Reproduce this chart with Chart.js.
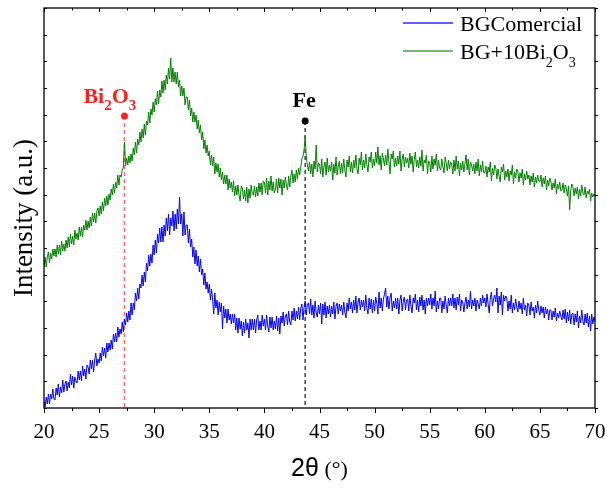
<!DOCTYPE html>
<html>
<head>
<meta charset="utf-8">
<script src="https://cdn.jsdelivr.net/npm/chart.js@4.4.0/dist/chart.umd.min.js"></script>
<style>
  html, body { margin: 0; padding: 0; background: #fff; }
  #wrap { width: 607px; height: 491px; }
</style>
</head>
<body>
<div id="wrap"><canvas id="xrdChart"></canvas></div>
<script>
// 2theta sampling: 20.0 .. 70.0, one reading every 0.1 deg
const angleStart = 20
const angleStep = 0.1
const xTicks = [20, 25, 30, 35, 40, 45, 50, 55, 60, 65, 70]

// intensities (arbitrary units, 0 = bottom axis, 400 = top)
const bgComercial = [
  7, 1, 11, 4, 14, 4, 14, 9, 19, 9,                 // 20
  8, 20, 13, 24, 11, 21, 15, 28, 16, 24,            // 21
  27, 17, 26, 20, 34, 23, 32, 20, 31, 27,           // 22
  25, 37, 28, 37, 27, 42, 32, 39, 29, 43,           // 23
  41, 34, 48, 39, 48, 36, 48, 55, 42, 49,           // 24
  45, 55, 47, 61, 52, 60, 50, 65, 56, 65,           // 25
  58, 68, 59, 74, 66, 75, 66, 81, 71, 79,           // 26
  74, 86, 76, 89, 83, 95, 86, 97, 88, 105,          // 27
  93, 105, 98, 115, 107, 120, 109, 124, 120, 133,   // 28
  122, 136, 126, 145, 137, 153, 142, 154, 145, 163, // 29
  153, 168, 155, 174, 165, 180, 166, 181, 166, 183, // 30
  172, 190, 177, 194, 173, 190, 182, 197, 177, 194, // 31
  179, 199, 184, 211, 184, 194, 172, 196, 173, 183, // 32
  183, 165, 179, 161, 169, 151, 161, 144, 158, 142, // 33
  152, 136, 149, 133, 139, 123, 135, 119, 126, 115, // 34
  124, 108, 119, 109, 94, 115, 100, 108, 93, 106,   // 35
  96, 105, 79, 102, 90, 99, 85, 99, 88, 94,         // 36
  84, 94, 85, 94, 78, 90, 75, 90, 79, 87,           // 37
  72, 86, 75, 89, 78, 85, 70, 89, 78, 89,           // 38
  78, 89, 75, 88, 93, 78, 87, 78, 93, 82,           // 39
  89, 78, 93, 82, 76, 91, 80, 91, 78, 87,           // 40
  79, 92, 77, 90, 74, 92, 85, 96, 82, 92,           // 41
  94, 83, 97, 86, 83, 97, 88, 100, 87, 97,          // 42
  89, 101, 88, 100, 104, 88, 101, 107, 93, 104,     // 43
  105, 94, 109, 93, 103, 90, 107, 95, 91, 103,      // 44
  94, 105, 84, 104, 93, 106, 90, 102, 94, 103,      // 45
  91, 102, 94, 106, 89, 102, 105, 94, 104, 97,      // 46
  103, 93, 106, 96, 90, 105, 97, 110, 99, 106,      // 47
  95, 108, 98, 112, 95, 106, 110, 98, 108, 101,     // 48
  108, 97, 113, 100, 94, 110, 99, 109, 95, 108,     // 49
  97, 111, 105, 94, 116, 100, 110, 97, 109, 114,    // 50
  120, 101, 112, 99, 110, 115, 97, 107, 100, 110,   // 51
  99, 110, 94, 108, 113, 97, 107, 111, 98, 108,     // 52
  109, 97, 113, 102, 95, 110, 105, 114, 98, 108,    // 53
  96, 111, 102, 113, 98, 108, 94, 110, 102, 110,    // 54
  103, 114, 99, 110, 102, 117, 96, 107, 99, 110,    // 55
  110, 95, 107, 99, 112, 103, 95, 110, 102, 110,    // 56
  102, 114, 100, 110, 98, 111, 103, 114, 97, 108,   // 57
  106, 96, 105, 111, 99, 108, 101, 117, 99, 108,    // 58
  102, 110, 97, 108, 104, 99, 110, 102, 113, 105,   // 59
  110, 101, 114, 104, 95, 110, 116, 102, 109, 113,  // 60
  106, 120, 95, 112, 103, 116, 93, 113, 107, 112,   // 61
  110, 97, 107, 99, 113, 95, 105, 98, 109, 101,     // 62
  96, 107, 99, 105, 94, 110, 98, 103, 92, 105,      // 63
  103, 93, 106, 97, 101, 90, 103, 95, 107, 98,      // 64
  93, 102, 95, 101, 90, 101, 94, 99, 88, 98,        // 65
  98, 88, 97, 91, 100, 87, 95, 90, 97, 92,          // 66
  88, 98, 89, 99, 85, 96, 87, 98, 84, 94,           // 67
  95, 83, 94, 86, 97, 80, 92, 85, 98, 87,           // 68
  83, 94, 85, 95, 81, 92, 77, 94, 84, 91,           // 69
  86                                                // 70
]

const bgBi2O3 = [
  141, 151, 141, 151, 156, 145, 155, 149, 159, 152, // 20
  159, 151, 163, 154, 163, 153, 167, 157, 164, 157, // 21
  168, 160, 171, 161, 174, 164, 172, 163, 178, 169, // 22
  175, 168, 181, 172, 181, 171, 183, 178, 188, 178, // 23
  187, 180, 191, 182, 195, 186, 195, 185, 197, 200, // 24
  192, 202, 194, 206, 197, 210, 202, 212, 203, 214, // 25
  208, 219, 213, 224, 215, 226, 220, 233, 223, 233, // 26
  231, 238, 241, 266, 242, 250, 243, 252, 245, 254, // 27
  247, 260, 253, 266, 255, 269, 263, 276, 266, 279, // 28
  270, 284, 273, 287, 283, 296, 285, 299, 293, 306, // 29
  296, 309, 303, 317, 304, 318, 311, 327, 315, 328, // 30
  318, 333, 324, 340, 329, 350, 326, 340, 326, 336, // 31
  324, 336, 321, 328, 312, 322, 312, 320, 303, 311, // 32
  311, 298, 308, 292, 300, 286, 296, 286, 293, 279, // 33
  288, 275, 283, 268, 276, 259, 268, 255, 263, 252, // 34
  257, 243, 253, 242, 251, 234, 245, 236, 244, 231, // 35
  240, 228, 236, 224, 233, 224, 233, 218, 229, 220, // 36
  226, 216, 227, 212, 222, 213, 223, 213, 207, 222, // 37
  220, 209, 218, 207, 221, 205, 219, 210, 223, 214, // 38
  213, 222, 211, 221, 212, 225, 216, 225, 213, 227, // 39
  226, 215, 230, 213, 227, 218, 232, 217, 226, 215, // 40
  219, 229, 215, 230, 220, 229, 213, 228, 220, 231, // 41
  223, 218, 232, 221, 232, 238, 225, 234, 226, 238, // 42
  229, 240, 233, 241, 249, 252, 258, 272, 251, 243, // 43
  237, 246, 234, 244, 231, 247, 239, 263, 236, 245, // 44
  244, 234, 249, 231, 242, 246, 233, 250, 236, 243, // 45
  237, 246, 228, 244, 235, 251, 233, 241, 247, 234, // 46
  245, 235, 249, 238, 231, 248, 241, 252, 236, 246, // 47
  235, 248, 240, 253, 239, 234, 250, 243, 256, 238, // 48
  248, 240, 254, 243, 236, 251, 246, 256, 240, 249, // 49
  242, 256, 245, 261, 243, 252, 238, 255, 249, 242, // 50
  253, 243, 259, 246, 234, 254, 249, 257, 241, 250, // 51
  242, 252, 244, 257, 237, 249, 254, 241, 251, 245, // 52
  250, 240, 255, 244, 252, 236, 249, 256, 241, 248, // 53
  240, 251, 242, 258, 237, 248, 245, 253, 234, 247, // 54
  246, 236, 252, 239, 249, 243, 254, 237, 248, 240, // 55
  238, 249, 241, 235, 251, 245, 237, 248, 239, 246, // 56
  244, 234, 248, 237, 252, 239, 247, 232, 245, 238, // 57
  247, 236, 244, 253, 238, 249, 233, 246, 243, 237, // 58
  244, 234, 246, 237, 249, 232, 243, 236, 247, 235, // 59
  235, 242, 231, 241, 236, 246, 227, 240, 233, 243, // 60
  240, 229, 239, 232, 226, 241, 236, 244, 228, 237, // 61
  231, 239, 227, 237, 233, 243, 224, 236, 230, 239, // 62
  237, 226, 235, 230, 239, 223, 234, 228, 237, 229, // 63
  233, 223, 232, 226, 235, 221, 231, 225, 233, 227, // 64
  226, 233, 221, 230, 224, 232, 218, 228, 222, 230, // 65
  227, 218, 225, 220, 229, 214, 224, 219, 226, 217, // 66
  218, 225, 215, 223, 220, 212, 222, 198, 218, 224, // 67
  221, 212, 220, 214, 221, 209, 219, 212, 223, 215, // 68
  213, 221, 210, 217, 214, 219, 207, 215, 211, 214, // 69
  212                                               // 70
]

// reflection markers: Bi2O3 and Fe
const peakAngles = [27.3, 43.7]
const peakMarkY = [292, 287]

function toPoints(values) {
  return values.map((v, i) => ({ x: angleStart + i * angleStep, y: v }))
}

const SERIF = "'Liberation Serif', 'Times New Roman', serif"

// text with subscripts: parts = [[text, isSub], ...]
function drawSubText(ctx, parts, x, y, size, subSize, weight, subDrop) {
  let cx = x
  for (const [t, sub] of parts) {
    ctx.font = weight + " " + (sub ? subSize : size) + "px " + SERIF
    ctx.fillText(t, cx, sub ? y + subDrop : y)
    cx += ctx.measureText(t).width
  }
  return cx - x
}

const peakLines = {
  id: "peakLines",
  beforeDatasetsDraw(chart) {
    const { ctx, scales: { x, y } } = chart
    const colors = ["rgba(255,70,70,0.8)", "#444"]
    ctx.save()
    ctx.lineWidth = 1.5
    ctx.setLineDash([4, 3])
    peakAngles.forEach((a, i) => {
      const px = x.getPixelForValue(a)
      ctx.strokeStyle = colors[i]
      ctx.beginPath()
      ctx.moveTo(px, y.getPixelForValue(peakMarkY[i]))
      ctx.lineTo(px, y.bottom)
      ctx.stroke()
    })
    ctx.restore()
  },
  afterDatasetsDraw(chart) {
    const { ctx, scales: { x, y } } = chart
    ctx.save()
    const dotColors = ["#ff2020", "#000"]
    peakAngles.forEach((a, i) => {
      ctx.fillStyle = dotColors[i]
      ctx.beginPath()
      ctx.arc(x.getPixelForValue(a), y.getPixelForValue(peakMarkY[i]), 3.5, 0, Math.PI * 2)
      ctx.fill()
    })
    // Bi2O3 label
    const bx = x.getPixelForValue(peakAngles[0])
    const by = y.getPixelForValue(peakMarkY[0])
    ctx.fillStyle = "#ff2020"
    ctx.textBaseline = "alphabetic"
    drawSubText(ctx, [["Bi", false], ["2", true], ["O", false], ["3", true]], bx - 41, by - 13, 22, 15, "bold", 7)
    // Fe label
    const fx = x.getPixelForValue(peakAngles[1])
    const fy = y.getPixelForValue(peakMarkY[1])
    ctx.fillStyle = "#000"
    ctx.font = "bold 22px " + SERIF
    ctx.textAlign = "center"
    ctx.fillText("Fe", fx - 1, fy - 14)
    ctx.restore()
  },
}

const frameAndText = {
  id: "frameAndText",
  afterDraw(chart) {
    const { ctx, chartArea: ca, scales: { x, y } } = chart
    ctx.save()
    ctx.strokeStyle = "#000"
    ctx.lineWidth = 1.3
    ctx.setLineDash([])
    ctx.strokeRect(ca.left, ca.top, ca.right - ca.left, ca.bottom - ca.top)

    // x ticks: major every 5 (outward), minor halfway
    ctx.lineWidth = 1
    ctx.beginPath()
    for (let v = 20; v <= 70; v += 2.5) {
      const px = Math.round(x.getPixelForValue(v)) + 0.5
      const major = v % 5 === 0
      ctx.moveTo(px, ca.bottom)
      ctx.lineTo(px, ca.bottom + (major ? 5 : 3))
      ctx.moveTo(px, ca.top)
      ctx.lineTo(px, ca.top + (major ? 4 : 2.5))
    }
    // y ticks (no labels)
    y.ticks.forEach(t => {
      const py = Math.round(y.getPixelForValue(t.value)) + 0.5
      ctx.moveTo(ca.left, py)
      ctx.lineTo(ca.left + 3, py)
      ctx.moveTo(ca.right, py)
      ctx.lineTo(ca.right + 3, py)
    })
    ctx.stroke()

    // axis titles
    ctx.fillStyle = "#000"
    ctx.textBaseline = "alphabetic"
    ctx.font = "25px 'Liberation Sans', Arial, sans-serif"
    const w1 = ctx.measureText("2θ").width
    ctx.font = "22px " + SERIF
    const w2 = ctx.measureText(" (°)").width
    const tx = (ca.left + ca.right) / 2 - (w1 + w2) / 2
    ctx.font = "25px 'Liberation Sans', Arial, sans-serif"
    ctx.fillText("2θ", tx, 476)
    ctx.font = "22px " + SERIF
    ctx.fillText(" (°)", tx + w1, 476)

    ctx.save()
    ctx.translate(32, 218)
    ctx.rotate(-Math.PI / 2)
    ctx.font = "27px " + SERIF
    ctx.textAlign = "center"
    ctx.fillText("Intensity (a.u.)", 0, 0)
    ctx.restore()

    // legend
    ctx.lineWidth = 1.5
    ctx.strokeStyle = "#2a2aff"
    ctx.beginPath()
    ctx.moveTo(403, 23)
    ctx.lineTo(453, 23)
    ctx.stroke()
    ctx.strokeStyle = "#4ca04c"
    ctx.beginPath()
    ctx.moveTo(403, 51)
    ctx.lineTo(453, 51)
    ctx.stroke()
    ctx.fillStyle = "#000"
    ctx.textAlign = "left"
    ctx.font = "22px " + SERIF
    ctx.fillText("BGComercial", 460, 31)
    drawSubText(ctx, [["BG+10Bi", false], ["2", true], ["O", false], ["3", true]], 460, 59, 22, 14, "normal", 8)
    ctx.restore()
  },
}

const ctx = document.getElementById("xrdChart").getContext("2d")
new Chart(ctx, {
  type: "line",
  data: {
    datasets: [
      {
        label: "BGComercial",
        data: toPoints(bgComercial),
        borderColor: "#0000ff",
        borderWidth: 1,
        pointRadius: 0,
        tension: 0,
      },
      {
        label: "BG+10Bi2O3",
        data: toPoints(bgBi2O3),
        borderColor: "#008000",
        borderWidth: 1,
        pointRadius: 0,
        tension: 0,
      },
    ],
  },
  options: {
    responsive: true,
    maintainAspectRatio: false,
    animation: false,
    events: [],
    layout: { padding: { top: 8, right: 12, left: 0, bottom: 0 } },
    plugins: {
      legend: { display: false },
      tooltip: { enabled: false },
    },
    scales: {
      x: {
        type: "linear",
        min: 20,
        max: 70,
        afterBuildTicks: scale => {
          scale.ticks = xTicks.map(v => ({ value: v }))
        },
        afterFit: scale => {
          scale.height = 83
          scale.paddingLeft = 0
          scale.paddingRight = 0
        },
        grid: { display: false, drawTicks: false },
        border: { display: false },
        ticks: {
          color: "#000",
          padding: 12,
          maxRotation: 0,
          font: { family: SERIF, size: 21 },
        },
      },
      y: {
        min: 0,
        max: 400,
        afterBuildTicks: scale => {
          scale.ticks = Array.from({ length: 16 }, (_, i) => ({ value: (i * 400) / 15 }))
        },
        afterFit: scale => {
          scale.width = 44
        },
        grid: { display: false, drawTicks: false },
        border: { display: false },
        ticks: { display: false },
      },
    },
  },
  plugins: [peakLines, frameAndText],
})
</script>
</body>
</html>
